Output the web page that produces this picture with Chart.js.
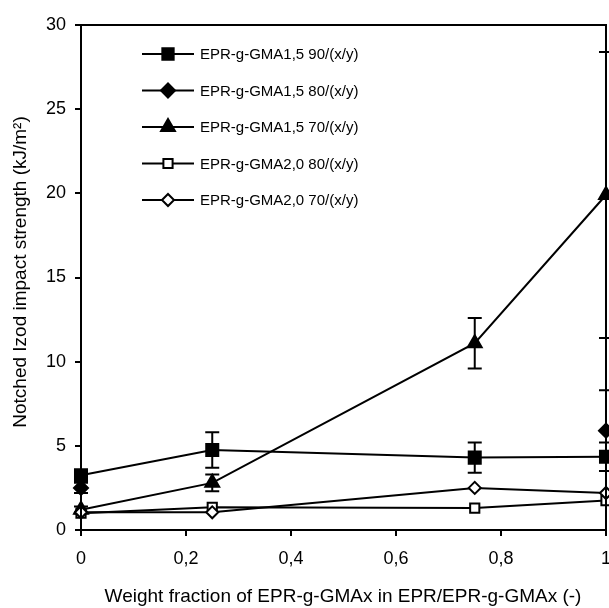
<!DOCTYPE html>
<html>
<head>
<meta charset="utf-8">
<script src="https://cdn.jsdelivr.net/npm/chart.js@4"></script>
<style>
  html, body { margin: 0; padding: 0; background: #fff; overflow: hidden; }
  #wrap { width: 609px; height: 608px; position: relative; overflow: hidden; }
</style>
</head>
<body>
<div id="wrap"><canvas id="chart" width="623" height="608"></canvas></div>
<script>
// Data
const xValues = [0, 0.25, 0.75, 1];
const xTickLabels = ['0', '0,2', '0,4', '0,6', '0,8', '1'];
const yTickLabels = ['0', '5', '10', '15', '20', '25', '30'];

const seriesNames = [
  'EPR-g-GMA1,5 90/(x/y)',
  'EPR-g-GMA1,5 80/(x/y)',
  'EPR-g-GMA1,5 70/(x/y)',
  'EPR-g-GMA2,0 80/(x/y)',
  'EPR-g-GMA2,0 70/(x/y)'
];

const gma15_90 = [3.25, 4.75, 4.3, 4.35];
const gma15_80 = [2.5, null, null, 5.9];
const gma15_70 = [1.2, 2.8, 11.1, 19.9];
const gma20_80 = [1.0, 1.35, 1.3, 1.75];
const gma20_70 = [1.05, 1.05, 2.5, 2.2];

const err15_90 = [0.2, 1.05, 0.9, 0.85];
const err15_80 = [0.3, 0, 0, 2.4];
const err15_70 = [0.2, 0.5, 1.5, 8.5];
const err20_80 = [0, 0, 0, 0];
const err20_70 = [0, 0, 0, 0];

const allValues = [gma15_90, gma15_80, gma15_70, gma20_80, gma20_70];
const allErrors = [err15_90, err15_80, err15_70, err20_80, err20_70];

const markers = [
  { style: 'rect', radius: 8.5, fill: '#000' },
  { style: 'rectRot', radius: 7, fill: '#000' },
  { style: 'triangle', radius: 8, fill: '#000' },
  { style: 'rect', radius: 6.5, fill: '#fff' },
  { style: 'rectRot', radius: 6, fill: '#fff' }
];

const FONT = '"Liberation Sans", Arial, sans-serif';

const datasets = allValues.map((vals, i) => ({
  label: seriesNames[i],
  data: xValues.map((x, j) => ({ x: x, y: vals[j] })),
  errors: allErrors[i],
  showLine: true,
  spanGaps: false,
  borderColor: '#000',
  borderWidth: 2,
  backgroundColor: markers[i].fill,
  pointStyle: markers[i].style,
  pointRadius: markers[i].radius,
  pointBorderColor: '#000',
  pointBorderWidth: 2,
  pointBackgroundColor: markers[i].fill,
  clip: false,
  order: 5 - i
}));

// error bars with caps
const errorBars = {
  id: 'errorBars',
  beforeDatasetsDraw(chart) {
    const { ctx, scales: { x, y } } = chart;
    ctx.save();
    ctx.strokeStyle = '#000';
    ctx.lineWidth = 2;
    chart.data.datasets.forEach(ds => {
      ds.data.forEach((p, j) => {
        const e = ds.errors[j];
        if (p.y == null || !e) return;
        const px = x.getPixelForValue(p.x);
        const top = y.getPixelForValue(p.y + e);
        const bot = y.getPixelForValue(p.y - e);
        ctx.beginPath();
        ctx.moveTo(px, top); ctx.lineTo(px, bot);
        ctx.moveTo(px - 7, top); ctx.lineTo(px + 7, top);
        ctx.moveTo(px - 7, bot); ctx.lineTo(px + 7, bot);
        ctx.stroke();
      });
    });
    ctx.restore();
  }
};

// frame, legend and axis titles
const decorations = {
  id: 'decorations',
  afterDraw(chart) {
    const { ctx, chartArea: a } = chart;
    ctx.save();
    ctx.strokeStyle = '#000';
    ctx.lineWidth = 2;
    ctx.strokeRect(a.left, a.top, a.right - a.left, a.bottom - a.top);

    // legend
    const lx = 142, lw = 52;
    chart.data.datasets.forEach((ds, i) => {
      const ly = 54 + i * 36.5;
      ctx.strokeStyle = '#000';
      ctx.lineWidth = 2;
      ctx.beginPath();
      ctx.moveTo(lx, ly); ctx.lineTo(lx + lw, ly);
      ctx.stroke();
      ctx.fillStyle = ds.pointBackgroundColor;
      Chart.helpers.drawPoint(ctx, {
        pointStyle: ds.pointStyle,
        radius: Math.min(ds.pointRadius, 8),
        borderWidth: 2
      }, lx + lw / 2, ly);
      ctx.fillStyle = '#000';
      ctx.font = '15px ' + FONT;
      ctx.textAlign = 'left';
      ctx.textBaseline = 'middle';
      ctx.fillText(ds.label, lx + lw + 6, ly + 1);
    });

    // axis titles
    ctx.fillStyle = '#000';
    ctx.font = '19px ' + FONT;
    ctx.textAlign = 'center';
    ctx.textBaseline = 'middle';
    ctx.fillText('Weight fraction of EPR-g-GMAx in EPR/EPR-g-GMAx (-)', 343, 597);
    ctx.translate(21, 272);
    ctx.rotate(-Math.PI / 2);
    ctx.fillText('Notched Izod impact strength (kJ/m²)', 0, 0);
    ctx.restore();
  }
};

new Chart(document.getElementById('chart'), {
  type: 'scatter',
  data: { datasets: datasets },
  options: {
    responsive: false,
    animation: false,
    layout: { padding: { left: 0, right: 3, top: 25, bottom: 0 } },
    plugins: { legend: { display: false }, tooltip: { enabled: false } },
    scales: {
      x: {
        type: 'linear', min: 0, max: 1,
        afterFit: s => { s.height = 78; },
        afterBuildTicks: s => {
          s.ticks = xTickLabels.map((_, i) => ({ value: i * 0.2 }));
        },
        ticks: {
          color: '#000', font: { family: FONT, size: 18 }, padding: 12,
          maxRotation: 0, autoSkip: false,
          callback: (v, i) => xTickLabels[i]
        },
        grid: { drawOnChartArea: false, drawTicks: true, tickLength: 6, color: '#000', lineWidth: 2 },
        border: { color: '#000', width: 2 }
      },
      y: {
        type: 'linear', min: 0, max: 30,
        afterFit: s => { s.width = 81; },
        afterBuildTicks: s => {
          s.ticks = yTickLabels.map(t => ({ value: Number(t) }));
        },
        ticks: {
          color: '#000', font: { family: FONT, size: 18 }, padding: 9,
          callback: (v, i) => yTickLabels[i]
        },
        grid: { drawOnChartArea: false, drawTicks: true, tickLength: 6, color: '#000', lineWidth: 2 },
        border: { color: '#000', width: 2 }
      }
    }
  },
  plugins: [errorBars, decorations]
});
</script>
</body>
</html>
